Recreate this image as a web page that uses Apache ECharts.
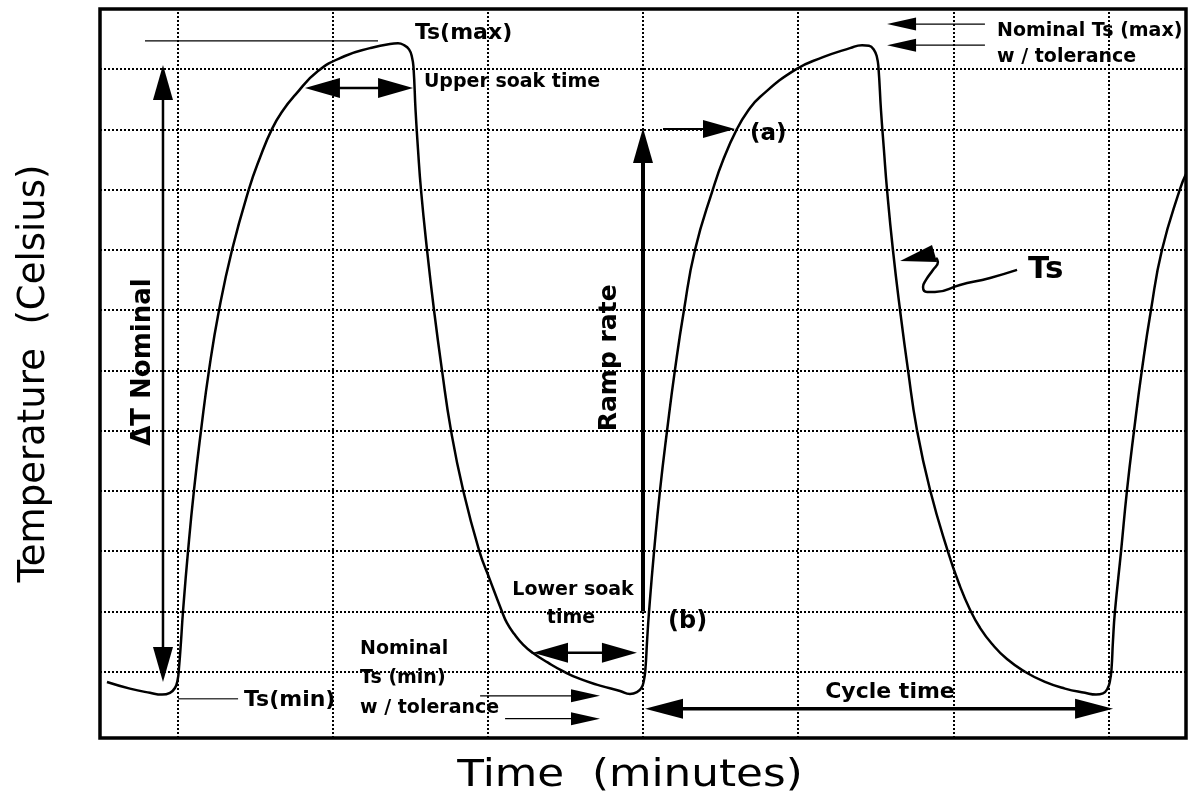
<!DOCTYPE html>
<html><head><meta charset="utf-8">
<script src="https://cdn.jsdelivr.net/npm/echarts@6/dist/echarts.min.js"></script>
<style>html,body{margin:0;padding:0;background:#fff}#c{width:1190px;height:807px}</style>
</head><body><div id="c"></div>
<script>
// ---- data (time in grid minutes, temperature in grid units) ----
const gridTimes = [0.5, 1.5, 2.5, 3.5, 4.5, 5.5, 6.5];
const gridTemps = [0, 1, 2, 3, 4, 5, 6, 7, 8, 9, 10];

const profileTime = [
  // cycle 1
  0.045, 0.193, 0.322, 0.400, 0.451, 0.483, 0.500, 0.509, 0.522, 0.535, 0.567, 0.606, 0.651, 0.703, 0.767, 0.851,
  0.960, 1.031, 1.109, 1.180, 1.257, 1.405, 1.579, 1.740, 1.869, 1.921, 1.960, 1.992, 2.011, 2.021, 2.034, 2.050, 2.069, 2.108,
  2.153, 2.204, 2.262, 2.340, 2.443, 2.514, 2.591, 2.623, 2.669, 2.727, 2.791, 2.888, 2.984, 3.094, 3.223, 3.352,
  // cycle 2
  3.416, 3.461, 3.490, 3.506, 3.516, 3.526, 3.539, 3.571, 3.610, 3.655, 3.706, 3.764, 3.835, 3.951, 4.022, 4.106,
  4.177, 4.254, 4.480, 4.660, 4.834, 4.912, 4.957, 4.989, 5.008, 5.018, 5.034, 5.053, 5.073, 5.111, 5.157, 5.208,
  5.266, 5.350, 5.466, 5.543, 5.608, 5.672, 5.750, 5.846, 5.962, 6.091, 6.220, 6.349,
  // cycle 3
  6.420, 6.465, 6.494, 6.510, 6.520, 6.529, 6.542, 6.581, 6.620, 6.665, 6.716, 6.774, 6.845, 6.961, 7.0
];
const profileTemp = [
  -0.17, -0.28, -0.35, -0.38, -0.35, -0.27, -0.14, 0.06, 0.50, 1.0, 1.99, 3.02, 4.0, 5.01, 6.0, 7.0,
  8.01, 8.53, 9.01, 9.32, 9.57, 9.97, 10.22, 10.35, 10.42, 10.43, 10.40, 10.33, 10.20, 10.02, 9.32, 8.66, 8.0, 7.0,
  6.0, 5.01, 4.01, 3.02, 2.02, 1.52, 1.0, 0.81, 0.63, 0.45, 0.31, 0.15, 0.01, -0.12, -0.23, -0.32,
  -0.37, -0.34, -0.27, -0.14, 0.06, 0.50, 1.0, 1.99, 3.02, 4.0, 5.01, 6.0, 7.0, 8.01, 8.53, 9.01,
  9.31, 9.54, 9.99, 10.20, 10.35, 10.40, 10.39, 10.32, 10.20, 10.02, 9.32, 8.66, 8.0, 7.0, 6.0, 5.01,
  4.01, 3.02, 1.99, 1.42, 1.03, 0.73, 0.46, 0.21, 0.0, -0.17, -0.28, -0.35,
  -0.38, -0.36, -0.28, -0.15, 0.05, 0.50, 1.0, 1.99, 3.02, 4.0, 5.01, 6.0, 7.0, 8.01, 8.26
];

const squiggleTime = [5.911, 5.737, 5.543, 5.382, 5.331, 5.305, 5.324, 5.369, 5.401, 5.389];
const squiggleTemp = [6.669, 6.536, 6.420, 6.304, 6.304, 6.387, 6.503, 6.669, 6.801, 6.868];
const squiggleHead = [[5.157, 6.818], [5.363, 7.084], [5.395, 6.801]];

// annotation arrows: from / to in (time, temperature)
const arrows = [
  { from: [0.406, -0.17], to: [0.406, 10.07], heads: 'both', kind: 'big' },
  { from: [1.321, 9.69],  to: [2.018, 9.69],  heads: 'both', kind: 'big' },
  { from: [3.500, 1.0],   to: [3.500, 9.025], heads: 'end',  kind: 'ramp' },
  { from: [3.629, 9.01],  to: [4.093, 9.01],  heads: 'end',  kind: 'medium' },
  { from: [5.704, 10.75], to: [5.073, 10.75], heads: 'end',  kind: 'thin' },
  { from: [5.704, 10.40], to: [5.073, 10.40], heads: 'end',  kind: 'thin' },
  { from: [2.450, -0.40], to: [3.223, -0.40], heads: 'end',  kind: 'thin' },
  { from: [2.611, -0.78], to: [3.223, -0.78], heads: 'end',  kind: 'thin' },
  { from: [2.791, 0.313], to: [3.461, 0.313], heads: 'both', kind: 'big' },
  { from: [3.513, -0.616], to: [6.530, -0.616], heads: 'both', kind: 'cycle' },
  { from: [0.290, 10.47], to: [1.792, 10.47], heads: 'none', kind: 'hair' },
  { from: [0.503, -0.45], to: [0.890, -0.45], heads: 'none', kind: 'hairGrey' }
];

// annotation texts anchored at (time, temperature)
const labels = [
  { text: 'Ts(max)',          at: [2.030, 10.60], align: 'left',   kind: 'l22' },
  { text: 'Upper soak time',  at: [2.088, 9.79],  align: 'left',   kind: 'l19' },
  { text: 'Nominal Ts (max)', at: [5.782, 10.635], align: 'left',  kind: 'l19' },
  { text: 'w / tolerance',    at: [5.782, 10.20], align: 'left',   kind: 'l19' },
  { text: '(a)',              at: [4.190, 8.93],  align: 'left',   kind: 'l23' },
  { text: 'Ts',               at: [5.982, 6.67],  align: 'left',   kind: 'l31' },
  { text: '\u0394T Nominal',  at: [0.277, 5.14],  align: 'center', kind: 'v26' },
  { text: 'Ramp rate',        at: [3.287, 5.21],  align: 'center', kind: 'v25' },
  { text: 'Lower soak',       at: [3.049, 1.36],  align: 'center', kind: 'l19' },
  { text: 'time',             at: [3.036, 0.894], align: 'center', kind: 'l19' },
  { text: '(b)',              at: [3.661, 0.828], align: 'left',   kind: 'l24' },
  { text: 'Nominal',          at: [1.676, 0.379], align: 'left',   kind: 'l19' },
  { text: 'Ts (min)',         at: [1.676, -0.102], align: 'left',  kind: 'l19' },
  { text: 'w / tolerance',    at: [1.676, -0.60], align: 'left',   kind: 'l19' },
  { text: 'Ts(min)',          at: [0.928, -0.467], align: 'left',  kind: 'l22' },
  { text: 'Cycle time',       at: [5.092, -0.334], align: 'center', kind: 'l22' }
];

// ---- styles ----
const arrowStyles = {
  big:      { lw: 2.5, headLen: 35, headW: 20, color: '#000' },
  ramp:     { lw: 4,   headLen: 35, headW: 20, color: '#000' },
  medium:   { lw: 2,   headLen: 32, headW: 18, color: '#000' },
  thin:     { lw: 1.3, headLen: 29, headW: 13, color: '#000' },
  cycle:    { lw: 3.5, headLen: 38, headW: 20, color: '#000' },
  hair:     { lw: 1.2, headLen: 0,  headW: 0,  color: '#000' },
  hairGrey: { lw: 1.5, headLen: 0,  headW: 0,  color: '#444' }
};
const labelStyles = {
  l19: { size: 19, rot: 0 }, l22: { size: 22, rot: 0 }, l23: { size: 23, rot: 0 },
  l24: { size: 24, rot: 0 }, l31: { size: 31, rot: 0 },
  v26: { size: 26, rot: Math.PI / 2 }, v25: { size: 25, rot: Math.PI / 2 }
};
const FONT = '"DejaVu Sans", "Liberation Sans", Arial, sans-serif';

function arrowItem(params, api) {
  const a = arrows[params.dataIndex];
  const st = arrowStyles[a.kind];
  const p1 = api.coord([api.value(0), api.value(1)]);
  const p2 = api.coord([api.value(2), api.value(3)]);
  const dx = p2[0] - p1[0], dy = p2[1] - p1[1];
  const L = Math.hypot(dx, dy) || 1;
  const ux = dx / L, uy = dy / L, nx = -uy, ny = ux;
  const hl = st.headLen, hw = st.headW / 2;
  const kids = [];
  let s = p1, e = p2;
  const head = (tip, sx, sy) => {
    const bx = tip[0] - sx * hl, by = tip[1] - sy * hl;
    return { type: 'polygon', shape: { points: [[tip[0], tip[1]], [bx + nx * hw, by + ny * hw], [bx - nx * hw, by - ny * hw]] },
             style: { fill: st.color } };
  };
  if (a.heads === 'both') { kids.push(head(p1, -ux, -uy)); s = [p1[0] + ux * hl * 0.9, p1[1] + uy * hl * 0.9]; }
  if (a.heads === 'both' || a.heads === 'end') { kids.push(head(p2, ux, uy)); e = [p2[0] - ux * hl * 0.9, p2[1] - uy * hl * 0.9]; }
  kids.unshift({ type: 'line', shape: { x1: s[0], y1: s[1], x2: e[0], y2: e[1] }, style: { stroke: st.color, lineWidth: st.lw } });
  return { type: 'group', children: kids };
}

function labelItem(params, api) {
  const t = labels[params.dataIndex];
  const st = labelStyles[t.kind];
  const p = api.coord([api.value(0), api.value(1)]);
  return { type: 'text', x: p[0], y: p[1], rotation: st.rot,
    style: { text: t.text, fill: '#000', fontSize: st.size, fontWeight: 'bold', fontFamily: FONT,
             align: t.align, verticalAlign: 'middle' } };
}

function headItem(params, api) {
  const pts = squiggleHead.map(p => api.coord(p));
  return { type: 'polygon', shape: { points: pts }, style: { fill: '#000' } };
}

const chart = echarts.init(document.getElementById('c'), null, { renderer: 'canvas' });
chart.setOption({
  animation: false,
  backgroundColor: '#fff',
  grid: { left: 100, right: 4, top: 9, bottom: 69, show: true, borderColor: '#000', borderWidth: 3.5, backgroundColor: 'transparent' },
  graphic: [{
    type: 'text', x: 630, y: 776, scaleX: 1.18, silent: true,
    style: { text: 'Time  (minutes)', fill: '#000', fontFamily: FONT, fontSize: 37, align: 'center', verticalAlign: 'middle' }
  }],
  xAxis: {
    type: 'value', min: 0, max: 7,
    axisLine: { show: false }, axisTick: { show: false }, axisLabel: { show: false }, splitLine: { show: false }
  },
  yAxis: {
    type: 'value', min: -1.1, max: 11,
    name: 'Temperature  (Celsius)', nameLocation: 'middle', nameGap: 47, nameRotate: 90,
    nameTextStyle: { fontFamily: FONT, fontSize: 37, color: '#000', fontWeight: 'normal' },
    axisLine: { show: false }, axisTick: { show: false }, axisLabel: { show: false }, splitLine: { show: false }
  },
  series: [
    {
      type: 'line', data: [], z: 1, silent: true,
      markLine: {
        silent: true, symbol: ['none', 'none'], label: { show: false },
        lineStyle: { type: [2, 2], width: 2, color: '#000' },
        data: gridTimes.map(v => ({ xAxis: v })).concat(gridTemps.map(v => ({ yAxis: v })))
      }
    },
    {
      type: 'line', name: 'Temperature', z: 3, silent: true, smooth: 0.5, symbol: 'none',
      lineStyle: { color: '#000', width: 2.5 },
      data: profileTime.map((t, i) => [t, profileTemp[i]])
    },
    {
      type: 'line', z: 4, silent: true, smooth: 0.5, symbol: 'none',
      lineStyle: { color: '#000', width: 2.5 },
      data: squiggleTime.map((t, i) => [t, squiggleTemp[i]])
    },
    { type: 'custom', z: 4, silent: true, renderItem: headItem, data: [[squiggleHead[0][0], squiggleHead[0][1]]] },
    {
      type: 'custom', z: 5, silent: true, renderItem: arrowItem,
      encode: { x: [0, 2], y: [1, 3] },
      data: arrows.map(a => [a.from[0], a.from[1], a.to[0], a.to[1]])
    },
    {
      type: 'custom', z: 6, silent: true, renderItem: labelItem,
      data: labels.map(l => [l.at[0], l.at[1]])
    }
  ]
});
</script></body></html>
